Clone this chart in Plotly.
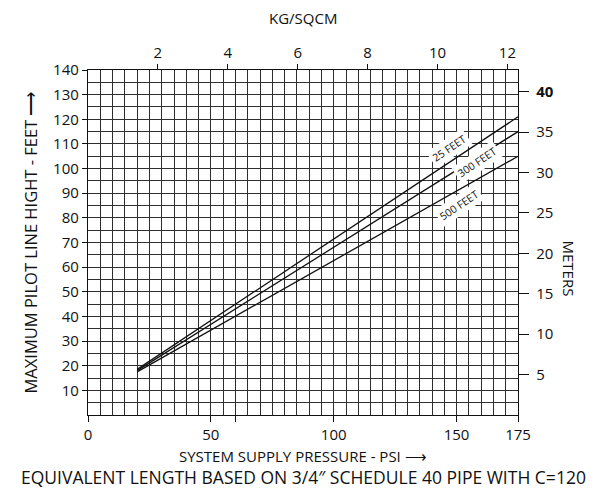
import plotly.graph_objects as go

# supply pressure (psi) and max pilot line height (ft) for each equivalent length
PSI = [20, 175]
FT_25 = [18.5, 121]
FT_300 = [18, 115]
FT_500 = [17.5, 105]

CURVE_LABELS = ["25 FEET", "300 FEET", "500 FEET"]
LABEL_PSI = [147.0, 158.4, 151.1]
LABEL_FT = [108.5, 102.7, 85.2]

PSI_TICKS = [0, 50, 60, 100, 150, 175]
PSI_TICKTEXT = ["0", "50", "", "100", "150", "175"]
FT_TICKS = list(range(10, 141, 10))
KG_TICKS = [2, 4, 6, 8, 10, 12]
M_TICKS = [5, 10, 15, 20, 25, 30, 35, 40]
M_TICKTEXT = ["5", "10", "15", "20", "25", "30", "35", "<b>40</b>"]

PSI_MAX = 175
FT_MAX = 140
PSI_PER_KG = 14.223
FT_PER_M = 3.2808

FONT = "Open Sans"
INK = "#111111"
GRID = "#2e2e2e"

fig = go.Figure()
for ys in (FT_25, FT_300, FT_500):
    fig.add_trace(go.Scatter(x=PSI, y=ys, mode="lines",
        line=dict(color=INK, width=1.3), hoverinfo="skip", showlegend=False))

# dummy traces so the secondary axes get drawn
fig.add_trace(go.Scatter(x=[0], y=[0], xaxis="x2", yaxis="y", mode="markers",
    marker=dict(opacity=0), hoverinfo="skip", showlegend=False))
fig.add_trace(go.Scatter(x=[0], y=[0], xaxis="x", yaxis="y2", mode="markers",
    marker=dict(opacity=0), hoverinfo="skip", showlegend=False))

for txt, xv, yv in zip(CURVE_LABELS, LABEL_PSI, LABEL_FT):
    fig.add_annotation(x=xv, y=yv, xref="x", yref="y", text=txt, showarrow=False,
        textangle=-34, bgcolor="white", borderpad=2,
        font=dict(family=FONT, size=10.5, color=INK))

def note(text, x, y, dx=0, dy=0, angle=0, size=15):
    fig.add_annotation(text=text, xref="paper", yref="paper", x=x, y=y,
        xshift=dx, yshift=dy, textangle=angle, xanchor="center", yanchor="middle",
        showarrow=False, font=dict(family=FONT, size=size, color=INK))

note("KG/SQCM", 0.5, 1, dy=52)
note("MAXIMUM PILOT LINE HIGHT - FEET \u27f6", 0, 0.5, dx=-58, angle=-90, size=16.5)
note("METERS", 1, 0.5, dx=51, dy=-26, angle=90)
note("SYSTEM SUPPLY PRESSURE - PSI \u27f6", 0.5, 0, dy=-41)
note("EQUIVALENT LENGTH BASED ON 3/4\u2033 SCHEDULE 40 PIPE WITH C=120", 0.5, 0, dy=-62, size=17.5)

tickfont = dict(family=FONT, size=15, color=INK)
fig.update_layout(
    # the page body adds an 8px offset, so the figure is 8px smaller
    width=592, height=480,
    margin=dict(l=80, r=82, t=62, b=73),
    plot_bgcolor="white", paper_bgcolor="white",
    xaxis=dict(range=[0, PSI_MAX], tickvals=PSI_TICKS, ticktext=PSI_TICKTEXT,
        ticks="outside", ticklen=6, tickcolor=INK, tickfont=tickfont,
        showgrid=True, gridcolor=GRID, gridwidth=1, zeroline=False,
        showline=True, linecolor=INK, linewidth=1.3,
        minor=dict(dtick=5, tick0=0, showgrid=True, gridcolor=GRID, gridwidth=1, ticks="")),
    yaxis=dict(range=[0, FT_MAX], tickvals=FT_TICKS,
        ticks="outside", ticklen=5, tickcolor=INK, tickfont=tickfont,
        showgrid=True, gridcolor=GRID, gridwidth=1, zeroline=False,
        showline=True, linecolor=INK, linewidth=1.3,
        minor=dict(dtick=5, tick0=0, showgrid=True, gridcolor=GRID, gridwidth=1, ticks="")),
    xaxis2=dict(overlaying="x", side="top", anchor="y", range=[0, PSI_MAX / PSI_PER_KG],
        tickvals=KG_TICKS, ticks="outside", ticklen=5, tickcolor=INK, tickfont=tickfont,
        showgrid=False, zeroline=False, showline=True, linecolor=INK, linewidth=1.3),
    yaxis2=dict(overlaying="y", side="right", anchor="x", range=[0, FT_MAX / FT_PER_M],
        tickvals=M_TICKS, ticktext=M_TICKTEXT, ticks="outside", ticklen=10,
        ticklabelstandoff=4, tickcolor=INK, tickfont=tickfont,
        showgrid=False, zeroline=False, showline=True, linecolor=INK, linewidth=1.3),
)

fig.write_html("out.html")
